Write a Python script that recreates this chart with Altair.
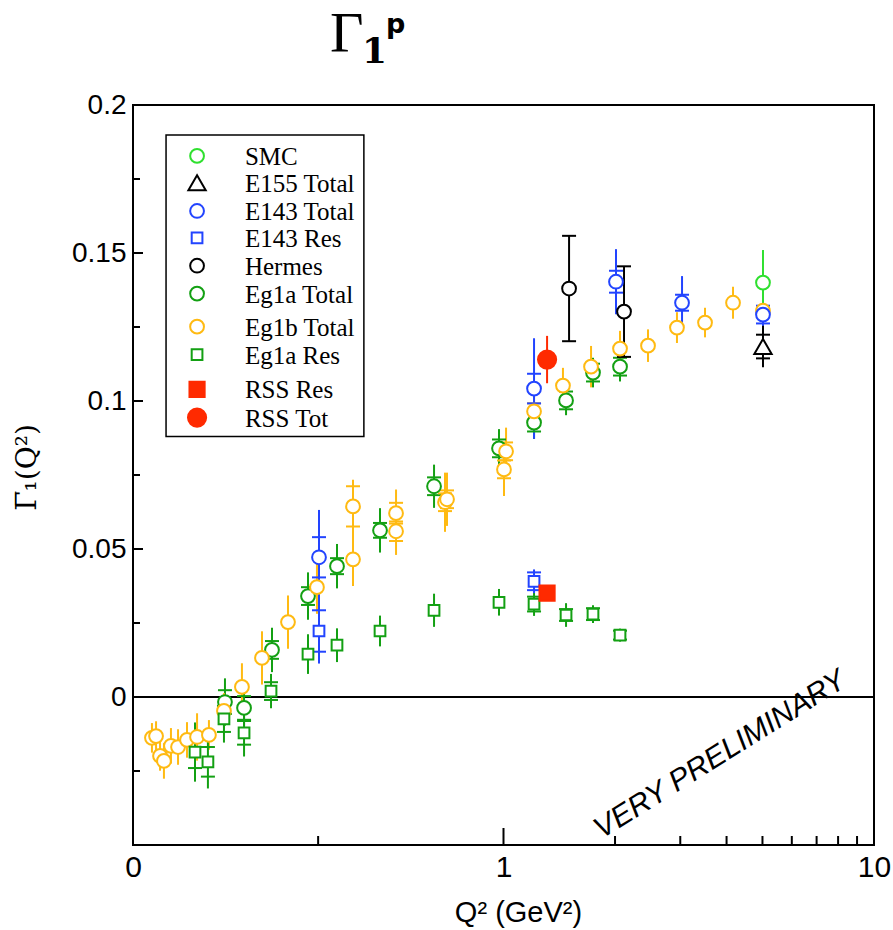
import altair as alt
import pandas as pd

# ---------------- series definitions ----------------
series_order = ["SMC", "E155 Total", "E143 Total", "E143 Res", "Hermes",
                "Eg1a Total", "Eg1b Total", "Eg1a Res", "RSS Res", "RSS Tot"]
series_colors = ["#2fe02f", "#000000", "#2244ff", "#2244ff", "#000000",
                 "#13a013", "#ffba12", "#13a013", "#ff2a00", "#ff2a00"]
series_fills = ["white", "white", "white", "white", "white",
                "white", "white", "white", "#ff2a00", "#ff2a00"]
series_shapes = ["circle", "triangle-up", "circle", "square", "circle",
                 "circle", "circle", "square", "square", "circle"]
series_sizes = [190, 300, 190, 115, 190, 190, 190, 115, 230, 330]

# ---------------- data ----------------
eg1a_tot_q = [0.1771, 0.1994, 0.2372, 0.2967, 0.3553, 0.4642, 0.6494, 0.9725, 1.209, 1.475, 1.744, 2.063]
eg1a_tot_v = [-0.0017, -0.0037, 0.0159, 0.0341, 0.0442, 0.0563, 0.0712, 0.084, 0.0927, 0.1002, 0.1096, 0.1116]
eg1a_tot_e = [0.008, 0.006, 0.0075, 0.008, 0.0075, 0.0075, 0.0073, 0.0065, 0.0055, 0.005, 0.005, 0.005]
eg1a_tot_s = [0.004, 0.004, 0.003, 0.003, 0.0027, 0.0025, 0.003, 0.003, 0.003, 0.003, 0.003, 0.003]

eg1b_tot_q = [0.1125, 0.1154, 0.1183, 0.1212, 0.1266, 0.1323, 0.1399, 0.1489, 0.1603, 0.176,
              0.1968, 0.2229, 0.262, 0.3137, 0.3925, 0.3925, 0.5128, 0.5128, 0.6953, 0.704,
              1.003, 1.016, 1.209, 1.447, 1.723, 2.063, 2.455, 2.939, 3.499, 4.164, 5.016]
eg1b_tot_v = [-0.0138, -0.0132, -0.0199, -0.0216, -0.0165, -0.0169, -0.0145, -0.0135, -0.0128, -0.0047,
              0.0034, 0.0132, 0.0253, 0.0371, 0.0644, 0.0465, 0.0621, 0.056, 0.0658, 0.0668,
              0.0769, 0.083, 0.0965, 0.1052, 0.1116, 0.1177, 0.1187, 0.1248, 0.1265, 0.1332, 0.1305]
eg1b_tot_e = [0.005, 0.005, 0.005, 0.006, 0.006, 0.006, 0.006, 0.008, 0.005, 0.006,
              0.008, 0.009, 0.009, 0.009, 0.009, 0.009, 0.008, 0.008, 0.01, 0.009,
              0.009, 0.008, 0.007, 0.006, 0.007, 0.006, 0.0055, 0.0052, 0.005, 0.0054, 0.0054]
eg1b_tot_s = [None, None, None, None, None, None, None, None, None, None,
              None, None, None, None, 0.0068, None, 0.0035, 0.0033, 0.003, 0.003,
              0.003, 0.003, 0.0027, None, None, None, None, None, None, None, None]

eg1a_res_q = [0.147, 0.1593, 0.176, 0.1994, 0.2358, 0.2967, 0.3553, 0.4642, 0.6494, 0.9725, 1.209, 1.475, 1.744, 2.063]
eg1a_res_v = [-0.0186, -0.0219, -0.0074, -0.0121, 0.002, 0.0145, 0.0175, 0.0223, 0.0293, 0.032, 0.0314, 0.0277, 0.028, 0.0209]
eg1a_res_e = [0.01, 0.009, 0.008, 0.008, 0.0058, 0.0067, 0.0057, 0.0052, 0.0056, 0.0045, 0.004, 0.004, 0.003, 0.0022]
eg1a_res_s = [0.0054, 0.005, 0.0044, 0.004, 0.003, None, None, None, None, None, 0.0025, 0.002, 0.002, 0.0015]

e143_tot_q = [0.3177, 1.209, 2.012, 3.033, 5.016]
e143_tot_v = [0.0472, 0.1042, 0.1403, 0.1332, 0.1292]
e143_tot_e = [0.016, 0.017, 0.011, 0.009, 0.0098]
e143_tot_s = [0.0068, 0.005, 0.0037, 0.0027, 0.003]

e143_res_q = [0.3177, 1.209]
e143_res_v = [0.0223, 0.0391]
e143_res_e = [0.011, 0.004]
e143_res_s = [0.007, 0.003]

hermes_q = [1.503, 2.115]
hermes_v = [0.138, 0.1302]
hermes_e = [0.0178, 0.0153]

e155_q = [5.016]
e155_v = [0.1184]
e155_e = [0.007]
e155_s = [0.004]

smc_q = [5.016]
smc_v = [0.14]
smc_e = [0.011]

rss_res_q = [1.311]
rss_res_v = [0.0351]

rss_tot_q = [1.311]
rss_tot_v = [0.114]
rss_tot_e = [0.008]

# axis tick values
y_major = [-0.05, 0, 0.05, 0.1, 0.15, 0.2]
y_minor = [-0.025, 0.025, 0.075, 0.125, 0.175]
y_labels = [0, 0.05, 0.1, 0.15, 0.2]
x_major = [0.1, 1, 10]
x_minor = [0.316, 2, 3, 4, 5, 6, 7, 8, 9]
zero_line = [0]

annot_text = ["VERY PRELIMINARY"]
annot_q = [3.84]
annot_v = [-0.0195]

title_main = ["Γ"]
title_sub = ["1"]
title_sup = ["p"]

# legend layout (in data coordinates of the plot)
legend_row_v = [0.1828, 0.1737, 0.1642, 0.1551, 0.1457, 0.1363, 0.1251, 0.1157, 0.1039, 0.0944]
legend_sym_q = 0.1489
legend_lab_q = 0.2005
legend_box_q = [0.1228, 0.4199]
legend_box_v = [0.0880, 0.1899]

# ---------------- build tables ----------------
style = {s: (c, f, sh, sz) for s, c, f, sh, sz in
         zip(series_order, series_colors, series_fills, series_shapes, series_sizes)}
pts, errs, bars = [], [], []


def add(name, q, v, e=None, s=None, caps=False):
    c, f, sh, sz = style[name]
    for i in range(len(q)):
        pts.append({"series": name, "q": q[i], "val": v[i], "col": c, "fil": f, "shp": sh, "sz": sz})
        if e is not None and e[i]:
            errs.append({"col": c, "q": q[i], "lo": v[i] - e[i], "hi": v[i] + e[i]})
            if caps:
                bars.append({"col": c, "q": q[i], "yy": v[i] - e[i]})
                bars.append({"col": c, "q": q[i], "yy": v[i] + e[i]})
        if s is not None and s[i]:
            bars.append({"col": c, "q": q[i], "yy": v[i] - s[i]})
            bars.append({"col": c, "q": q[i], "yy": v[i] + s[i]})


add("Eg1a Total", eg1a_tot_q, eg1a_tot_v, eg1a_tot_e, eg1a_tot_s)
add("Eg1b Total", eg1b_tot_q, eg1b_tot_v, eg1b_tot_e, eg1b_tot_s)
add("Eg1a Res", eg1a_res_q, eg1a_res_v, eg1a_res_e, eg1a_res_s)
add("E143 Res", e143_res_q, e143_res_v, e143_res_e, e143_res_s)
add("E143 Total", e143_tot_q, e143_tot_v, e143_tot_e, e143_tot_s)
add("Hermes", hermes_q, hermes_v, hermes_e, caps=True)
add("SMC", smc_q, smc_v, smc_e)
add("E155 Total", e155_q, e155_v, e155_e, e155_s)
add("RSS Res", rss_res_q, rss_res_v)
add("RSS Tot", rss_tot_q, rss_tot_v, rss_tot_e)

pts_df = pd.DataFrame(pts)
err_df = pd.DataFrame(errs)
bar_df = pd.DataFrame(bars)

leg_df = pd.DataFrame({
    "series": series_order, "col": series_colors, "fil": series_fills,
    "shp": series_shapes, "sz": series_sizes, "val": legend_row_v,
    "q": [legend_sym_q] * len(series_order), "lq": [legend_lab_q] * len(series_order),
})
box_df = pd.DataFrame({"q": [legend_box_q[0]], "q2": [legend_box_q[1]],
                       "v": [legend_box_v[0]], "v2": [legend_box_v[1]]})

# ---------------- scales / axes ----------------
xs = alt.Scale(type="log", domain=[0.1, 10], nice=False)
ys = alt.Scale(domain=[-0.05, 0.2], nice=False, zero=False)

xaxis = alt.Axis(values=x_major, labelExpr="datum.value < 0.5 ? '0' : format(datum.value, '~g')",
                 ticks=False, domain=False, grid=False, labelFlush=False, labelOverlap=False,
                 labelFont="Liberation Sans", labelFontSize=30, labelPadding=7, labelColor="black",
                 title="Q² (GeV²)", titleFont="Liberation Sans", titleFontSize=29,
                 titleFontWeight="normal", titleColor="black", titleX=385, titleY=67,
                 titleBaseline="middle", titleAlign="center")
yaxis = alt.Axis(values=y_labels, format="~g", ticks=False, domain=False, grid=False,
                 labelFont="Liberation Sans", labelFontSize=28, labelPadding=7, labelColor="black",
                 title="Γ\u0305₁(Q²)", titleFont="DejaVu Serif", titleFontSize=28,
                 titleFontWeight="normal", titleColor="black", titleX=-106, titleY=362,
                 titleBaseline="middle", titleAlign="center", titleAngle=270)


def X(field):
    return alt.X(field, type="quantitative", scale=xs, axis=xaxis)


def Y(field):
    return alt.Y(field, type="quantitative", scale=ys, axis=yaxis)


def sym_enc():
    return dict(color=alt.Color("col:N", scale=None),
                fill=alt.Fill("fil:N", scale=None),
                shape=alt.Shape("shp:N", scale=None),
                size=alt.Size("sz:Q", scale=None))


# ---------------- layers ----------------
zero = alt.Chart(pd.DataFrame({"z": zero_line})).mark_rule(color="black", strokeWidth=2).encode(
    y=Y("z"))

errbars = alt.Chart(err_df).mark_rule(strokeWidth=2).encode(
    x=X("q"), y=Y("lo"), y2=alt.Y2("hi"), stroke=alt.Stroke("col:N", scale=None))

crossbars = alt.Chart(bar_df).mark_rule(strokeWidth=2, xOffset=-7, x2Offset=7).encode(
    x=X("q"), x2=alt.X2("q"), y=Y("yy"), stroke=alt.Stroke("col:N", scale=None))

points = alt.Chart(pts_df).mark_point(filled=False, strokeWidth=2, opacity=1).encode(
    x=X("q"), y=Y("val"), **sym_enc())

ytick_major = alt.Chart(pd.DataFrame({"t": y_major})).mark_rule(color="black", strokeWidth=2, x2Offset=10).encode(
    x=alt.X(datum=0.1, scale=xs, axis=xaxis), x2=alt.X2(datum=0.1), y=Y("t"))
ytick_minor = alt.Chart(pd.DataFrame({"t": y_minor})).mark_rule(color="black", strokeWidth=2, x2Offset=7).encode(
    x=alt.X(datum=0.1, scale=xs, axis=xaxis), x2=alt.X2(datum=0.1), y=Y("t"))
xtick_major = alt.Chart(pd.DataFrame({"t": x_major})).mark_rule(color="black", strokeWidth=2, y2Offset=-17).encode(
    y=alt.Y(datum=-0.05, scale=ys, axis=yaxis), y2=alt.Y2(datum=-0.05), x=X("t"))
xtick_minor = alt.Chart(pd.DataFrame({"t": x_minor})).mark_rule(color="black", strokeWidth=2, y2Offset=-9).encode(
    y=alt.Y(datum=-0.05, scale=ys, axis=yaxis), y2=alt.Y2(datum=-0.05), x=X("t"))

annot = alt.Chart(pd.DataFrame({"q": annot_q, "v": annot_v, "t": annot_text})).mark_text(
    angle=328, fontSize=30, font="Liberation Sans", fontStyle="italic", color="black").encode(
    x=X("q"), y=Y("v"), text="t:N")

# legend box, symbols and labels
leg_box = alt.Chart(box_df).mark_rect(fill="white", stroke="black", strokeWidth=1.5).encode(
    x=X("q"), x2=alt.X2("q2"), y=Y("v"), y2=alt.Y2("v2"))
leg_sym = alt.Chart(leg_df).mark_point(filled=False, strokeWidth=2, opacity=1).encode(
    x=X("q"), y=Y("val"), **sym_enc())
leg_lab = alt.Chart(leg_df).mark_text(font="Liberation Serif", fontSize=25, align="left",
                                      baseline="middle", color="black", dy=1).encode(
    x=X("lq"), y=Y("val"), text="series:N")

# title  Γ_1^p drawn as text in the top margin
t_main = alt.Chart(pd.DataFrame({"t": title_main})).mark_text(
    font="Liberation Serif", fontSize=58, align="left", baseline="alphabetic", color="black").encode(
    x=alt.value(197), y=alt.value(-53), text="t:N")
t_sub = alt.Chart(pd.DataFrame({"t": title_sub})).mark_text(
    font="DejaVu Serif", fontWeight="bold", fontSize=36, align="left", baseline="alphabetic",
    color="black").encode(x=alt.value(229), y=alt.value(-42), text="t:N")
t_sup = alt.Chart(pd.DataFrame({"t": title_sup})).mark_text(
    font="DejaVu Sans", fontWeight="bold", fontSize=27, align="left", baseline="alphabetic",
    color="black").encode(x=alt.value(253), y=alt.value(-72), text="t:N")

chart = alt.layer(zero, errbars, crossbars, points, ytick_major, ytick_minor,
                  xtick_major, xtick_minor, annot, leg_box, leg_sym, leg_lab,
                  t_main, t_sub, t_sup).properties(
    width=741, height=740,
    autosize="none",
    padding={"left": 133, "top": 105, "right": 19, "bottom": 85},
    background="white",
).configure_view(stroke="black", strokeWidth=2)

chart.save("out.html", embed_options={"renderer": "svg", "actions": False})
